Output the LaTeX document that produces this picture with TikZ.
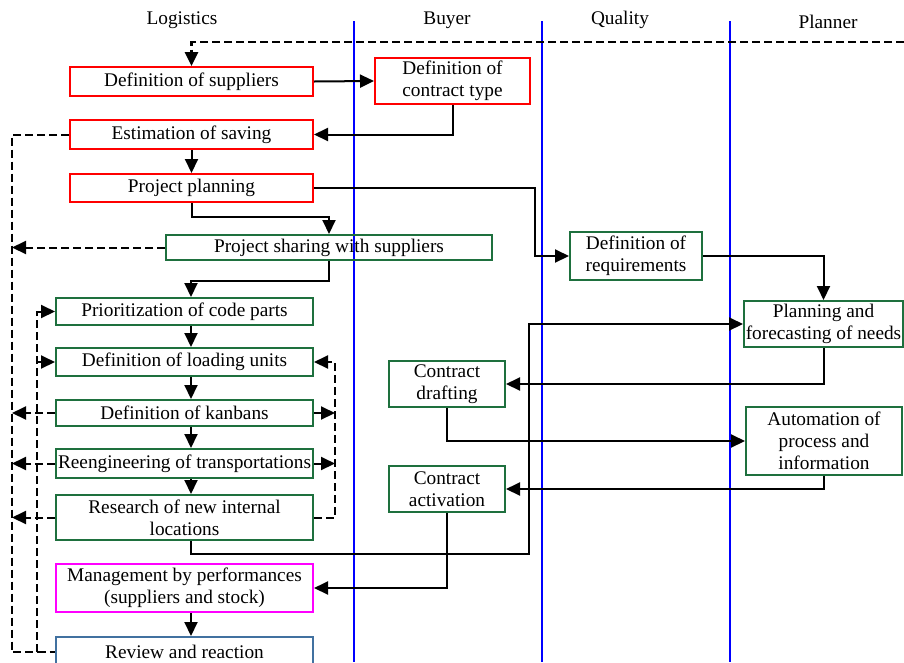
\documentclass[tikz,border=0pt]{standalone}
\usepackage{fontspec}
\setmainfont{Liberation Serif}
\usetikzlibrary{arrows.meta,calc}
\definecolor{boxred}{RGB}{255,0,0}
\definecolor{boxgreen}{RGB}{30,112,62}
\definecolor{boxmag}{RGB}{255,0,255}
\definecolor{boxsteel}{RGB}{65,113,160}
\definecolor{lane}{RGB}{0,0,255}
\begin{document}
\begin{tikzpicture}[x=1pt,y=-1pt,
  every node/.style={font=\fontsize{19.3}{22}\selectfont, inner sep=0pt},
  box/.style={draw, line width=2pt, align=center},
  rbox/.style={box, draw=boxred},
  gbox/.style={box, draw=boxgreen},
  mbox/.style={box, draw=boxmag},
  sbox/.style={box, draw=boxsteel},
  arr/.style={line width=2pt, -{Triangle[length=14pt,width=13pt]}},
  darr/.style={line width=2pt, dash pattern=on 8pt off 4pt, -{Triangle[length=14pt,width=13pt]}},
  dline/.style={line width=2pt, dash pattern=on 8pt off 4pt},
  lanestyle/.style={draw=lane, line width=1.6pt}
]
\clip (0,0) rectangle (904,662);
\useasboundingbox (0,0) rectangle (904,662);
% lanes
\draw[lanestyle] (354,21) -- (354,662);
\draw[lanestyle] (542,21) -- (542,662);
\draw[lanestyle] (730,21) -- (730,662);
\node (hL) at (182,20) {Logistics};
\node (hB) at (447,20) {Buyer};
\node (hQ) at (620,20) {Quality};
\node (hP) at (828,22) {Planner};
% helper coordinates
\coordinate (topR) at (904,42);
\coordinate (oL) at (12,0);
\coordinate (iL) at (37,0);
\coordinate (rL) at (335,0);
\coordinate (j1) at (535,0);
\coordinate (j2) at (529,0);
% nodes
\node[rbox, minimum width=243, minimum height=29] (ds) at (191.5,81.5) {Definition of suppliers};
\node[rbox, minimum width=155, minimum height=46] (dct) at (452.5,81) {Definition of\\contract type};
\node[rbox, minimum width=243, minimum height=29] (es) at (191.5,134.5) {Estimation of saving};
\node[rbox, minimum width=243, minimum height=28] (pp) at (191.5,188) {Project planning};
\node[gbox, minimum width=326, minimum height=25] (ps) at (329,247.5) {Project sharing with suppliers};
\node[gbox, minimum width=132, minimum height=48] (dr) at (636,256) {Definition of\\requirements};
\node[gbox, minimum width=257, minimum height=27] (pc) at (184.5,311.5) {Prioritization of code parts};
\node[gbox, minimum width=257, minimum height=28] (dl) at (184.5,362) {Definition of loading units};
\node[gbox, minimum width=257, minimum height=26] (kb) at (184.5,413) {Definition of kanbans};
\node[gbox, minimum width=257, minimum height=29] (re) at (184.5,463.5) {Reengineering of transportations};
\node[gbox, minimum width=257, minimum height=45] (rn) at (184.5,517.5) {Research of new internal\\locations};
\node[mbox, minimum width=257, minimum height=48] (mp) at (184.5,588) {Management by performances\\(suppliers and stock)};
\node[sbox, minimum width=257, minimum height=30] (rr) at (184.5,652) {Review and reaction};
\node[gbox, minimum width=159, minimum height=46] (pf) at (823.5,324) {Planning and\\forecasting of needs};
\node[gbox, minimum width=116, minimum height=46] (cd) at (447,384) {Contract\\drafting};
\node[gbox, minimum width=156, minimum height=68] (ap) at (824,441) {Automation of\\process and\\information};
\node[gbox, minimum width=116, minimum height=46] (ca) at (447,489) {Contract\\activation};
% solid connectors
\draw[arr] (ds.east) -- (dct.west);
\draw[arr] (dct.south) |- (es.east);
\draw[arr] (es.south) -- (pp.north);
\draw[arr] (pp.south) -- ++(0,14) -| (ps.north);
\draw[arr] (pp.east) -| (j1 |- dr.west) -- (dr.west);
\draw[arr] (ps.south) -- ++(0,20) -| ([xshift=6.5]pc.north);
\draw[arr] ([xshift=6.5]pc.south) -- ([xshift=6.5]dl.north);
\draw[arr] ([xshift=6.5]dl.south) -- ([xshift=6.5]kb.north);
\draw[arr] ([xshift=6.5]kb.south) -- ([xshift=6.5]re.north);
\draw[arr] ([xshift=6.5]re.south) -- ([xshift=6.5]rn.north);
\draw[arr] ([xshift=6.5]rn.south) -- ++(0,13) -| (j2 |- pf.west) -- (pf.west);
\draw[arr] (dr.east) -| (pf.north);
\draw[arr] (pf.south) |- (cd.east);
\draw[arr] (cd.south) |- (ap.west);
\draw[arr] (ap.south) |- (ca.east);
\draw[arr] (ca.south) |- (mp.east);
\draw[arr] ([xshift=6.5]mp.south) -- ([xshift=6.5]rr.north);
% dashed connectors
\draw[darr, line width=2.6pt] (topR) -| (ds.north);
\draw[dline] (es.west) -| (oL |- rr.west) -- (rr.west);
\draw[darr] (ps.west) -- (ps.west -| oL);
\draw[darr] (kb.west) -- (kb.west -| oL);
\draw[darr] (re.west) -- (re.west -| oL);
\draw[darr] (rn.west) -- (rn.west -| oL);
\draw[darr] (rr.west -| iL) |- (pc.west);
\draw[darr] (iL |- dl.west) -- (dl.west);
\draw[darr] (rn.east) -| (rL |- dl.east) -- (dl.east);
\draw[darr] (kb.east) -- (kb.east -| rL);
\draw[darr] (re.east) -- (re.east -| rL);
\end{tikzpicture}
\end{document}
